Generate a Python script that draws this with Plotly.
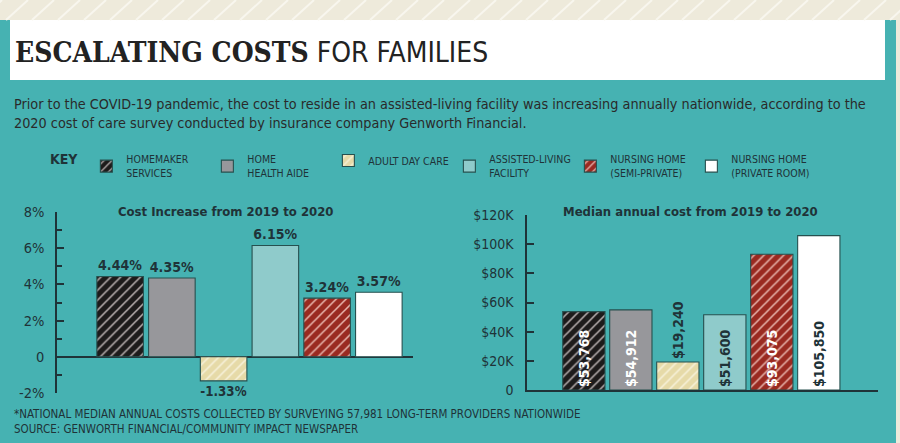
import plotly.graph_objects as go

# categories and values
categories = ["HOMEMAKER<br>SERVICES", "HOME<br>HEALTH AIDE", "ADULT DAY CARE",
              "ASSISTED-LIVING<br>FACILITY", "NURSING HOME<br>(SEMI-PRIVATE)", "NURSING HOME<br>(PRIVATE ROOM)"]
pct_increase = [4.44, 4.35, -1.33, 6.15, 3.24, 3.57]
median_cost = [53768, 54912, 19240, 51600, 93075, 105850]

pct_ticks = [-2, 0, 2, 4, 6, 8]
pct_ticktext = ["-2%", "0", "2%", "4%", "6%", "8%"]
cost_ticks = [0, 20000, 40000, 60000, 80000, 100000, 120000]
cost_ticktext = ["0", "$20K", "$40K", "$60K", "$80K", "$100K", "$120K"]

# styling per category
bar_colors = ["#1d1b1b", "#97979b", "#e6daa8", "#8fcbcb", "#9a2a21", "#ffffff"]
stripe_colors = ["#b9b1b1", None, "#f7f2dc", None, "#e8b6ae", None]
cost_label_colors = ["white", "white", "#1f3338", "#1f3338", "white", "#1f3338"]

TEAL = "#46b2b2"
DARK = "#1f3338"
BEIGE = "#eeeadb"
BODY = "DejaVu Sans Condensed, Roboto, sans-serif"
SLAB = "DejaVu Serif Condensed, DejaVu Serif, serif"
W, H = 900, 443


def px(x):
    return x / W


def py(y):
    return 1 - y / H


fig = go.Figure()

for i, cat in enumerate(categories):
    if stripe_colors[i]:
        pattern = dict(shape="/", fgcolor=stripe_colors[i], bgcolor=bar_colors[i],
                       size=7, solidity=0.22, fillmode="replace")
    else:
        pattern = dict(shape="")
    marker = dict(color=bar_colors[i], line=dict(color="#26504f", width=1.1), pattern=pattern)

    fig.add_trace(go.Bar(
        x=[cat], y=[pct_increase[i]], name=cat, legendgroup=cat, marker=marker,
        text=[f"{pct_increase[i]:.2f}%"], textposition="outside", cliponaxis=False,
        textfont=dict(family=BODY, size=14, color=DARK, weight="bold"),
        xaxis="x", yaxis="y", hoverinfo="skip",
    ))
    fig.add_trace(go.Bar(
        x=[cat], y=[median_cost[i]], name=cat, legendgroup=cat, marker=marker,
        showlegend=False,
        text=[f"${median_cost[i]:,}"], textangle=-90,
        textposition="outside" if median_cost[i] < 30000 else "inside",
        insidetextanchor="start", cliponaxis=False, constraintext="none",
        textfont=dict(family=BODY, size=14, color=cost_label_colors[i], weight="bold"),
        xaxis="x2", yaxis="y2", hoverinfo="skip",
    ))

axis_common = dict(showgrid=False, color=DARK)

fig.update_layout(
    width=W, height=H,
    margin=dict(l=0, r=0, t=0, b=0, autoexpand=False),
    paper_bgcolor=TEAL, plot_bgcolor="rgba(0,0,0,0)",
    barmode="overlay", bargap=0.1,
    font=dict(family=BODY, color=DARK),
    xaxis=dict(domain=[px(57), px(413)], range=[-1.22, 5.66], type="category",
               visible=False, anchor="y"),
    yaxis=dict(domain=[py(393), py(212)], range=[-2, 8], anchor="x",
               tickvals=pct_ticks, ticktext=pct_ticktext, ticks="inside", ticklen=7,
               tickcolor=DARK, tickwidth=1.5,
               minor=dict(dtick=1, ticks="inside", ticklen=5, tickcolor=DARK),
               showline=True, linecolor=DARK, linewidth=1.5,
               zeroline=True, zerolinecolor=DARK, zerolinewidth=1.5,
               ticklabelstandoff=8,
               tickfont=dict(family=BODY, size=14.5, color=DARK), **axis_common),
    xaxis2=dict(domain=[px(527), px(878)], range=[-1.21, 6.26], type="category",
                showticklabels=False, showline=True, linecolor=DARK, linewidth=1.5,
                ticks="", anchor="y2", showgrid=False),
    yaxis2=dict(domain=[py(390), py(215)], range=[0, 120000], anchor="x2",
                tickvals=cost_ticks, ticktext=cost_ticktext, ticks="inside", ticklen=7,
                tickcolor=DARK, tickwidth=1.5,
                showline=True, linecolor=DARK, linewidth=1.5, zeroline=False,
                ticklabelstandoff=9,
                tickfont=dict(family=BODY, size=14, color=DARK), **axis_common),
    legend=dict(orientation="h", x=px(48), y=py(146), xanchor="left", yanchor="top",
                bgcolor="rgba(0,0,0,0)", entrywidth=76, itemwidth=30, traceorder="normal",
                title=dict(text="<b>KEY</b>", side="left",
                           font=dict(family=BODY, size=14, color=DARK)),
                font=dict(family=BODY, size=10.5, color=DARK)),
)

# decorative frame: beige band with stripes, white title box
shapes = [
    dict(type="rect", xref="paper", yref="paper", x0=0, x1=1, y0=py(20), y1=1,
         fillcolor=BEIGE, line=dict(width=0), layer="below"),
    dict(type="rect", xref="paper", yref="paper", x0=px(896), x1=1, y0=0, y1=1,
         fillcolor=BEIGE, line=dict(width=0), layer="below"),
    dict(type="rect", xref="paper", yref="paper", x0=px(10), x1=px(885), y0=py(80), y1=py(20),
         fillcolor="white", line=dict(width=0), layer="below"),
]
for sx in range(-20, W + 20, 26):
    shapes.append(dict(type="line", xref="paper", yref="paper",
                       x0=px(sx), y0=py(20), x1=px(sx + 22), y1=1,
                       line=dict(color="#f8f6ee", width=2), layer="below"))
fig.update_layout(shapes=shapes)

fig.add_annotation(
    xref="paper", yref="paper", x=px(13), y=py(52), xanchor="left", yanchor="middle",
    showarrow=False,
    text=f"<b>ESCALATING COSTS</b><span style='font-family:{BODY}'> FOR FAMILIES</span>",
    font=dict(family=SLAB, size=28, color="#222222"),
)
fig.add_annotation(
    xref="paper", yref="paper", x=px(12), y=py(94), xanchor="left", yanchor="top",
    showarrow=False, align="left",
    text="Prior to the COVID-19 pandemic, the cost to reside in an assisted-living facility was increasing annually nationwide, according to the"
         "<br>2020 cost of care survey conducted by insurance company Genworth Financial.",
    font=dict(family=BODY, size=14.3, color="#2a2a2a"),
)
fig.add_annotation(
    xref="paper", yref="paper", x=px(225), y=py(211), xanchor="center", yanchor="middle",
    showarrow=False, text="<b>Cost Increase from 2019 to 2020</b>",
    font=dict(family=BODY, size=13, color=DARK),
)
fig.add_annotation(
    xref="paper", yref="paper", x=px(690), y=py(211), xanchor="center", yanchor="middle",
    showarrow=False, text="<b>Median annual cost from 2019 to 2020</b>",
    font=dict(family=BODY, size=13, color=DARK),
)
fig.add_annotation(
    xref="paper", yref="paper", x=px(12), y=py(405), xanchor="left", yanchor="top",
    showarrow=False, align="left",
    text="*NATIONAL MEDIAN ANNUAL COSTS COLLECTED BY SURVEYING 57,981 LONG-TERM PROVIDERS NATIONWIDE"
         "<br>SOURCE: GENWORTH FINANCIAL/COMMUNITY IMPACT NEWSPAPER",
    font=dict(family=BODY, size=11.5, color=DARK),
)

# drop the browser's default 8px body margin so the figure fills the window
fig.write_html("out.html", config={"displayModeBar": False},
               post_script="document.body.style.margin='0';")
